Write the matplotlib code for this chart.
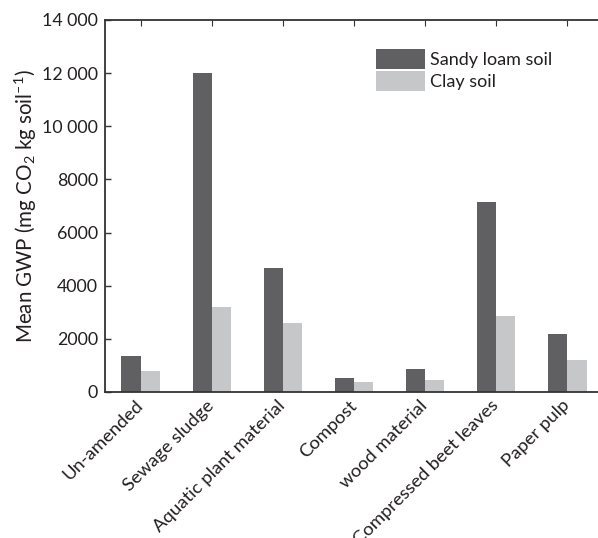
import matplotlib
matplotlib.use("Agg")
import matplotlib.pyplot as plt
import numpy as np
from matplotlib.ticker import FuncFormatter

plt.rcParams['font.family'] = ['Lato', 'DejaVu Sans']
plt.rcParams['mathtext.fontset'] = 'custom'
plt.rcParams['mathtext.rm'] = 'Lato'
plt.rcParams['mathtext.default'] = 'regular'

categories = ["Un-amended", "Sewage sludge", "Aquatic plant material", "Compost",
              "wood material", "Compressed beet leaves", "Paper pulp"]
sandy_loam = [1350, 12000, 4650, 520, 880, 7150, 2200]
clay = [790, 3200, 2600, 380, 450, 2850, 1200]
series_names = ["Sandy loam soil", "Clay soil"]
y_ticks = [0, 2000, 4000, 6000, 8000, 10000, 12000, 14000]

dark = "#606062"
light = "#c6c7c9"
axis_col = "#333333"
text_col = "#231f20"

fig = plt.figure(figsize=(5.98, 5.38), dpi=100)
ax = fig.add_axes([105 / 598, 1 - 392 / 538, 498 / 598, 372 / 538])

x = np.arange(len(categories))
w = 0.27
ax.bar(x - w / 2, sandy_loam, width=w, color=dark, label=series_names[0])
ax.bar(x + w / 2, clay, width=w, color=light, label=series_names[1])

ax.set_xlim(-0.5, len(categories) - 0.5)
ax.set_ylim(0, 14000)
ax.set_yticks(y_ticks)


def fmt(v, pos):
    v = int(v)
    if v >= 10000:
        return f"{v // 1000} {v % 1000:03d}"
    return str(v)


ax.yaxis.set_major_formatter(FuncFormatter(fmt))
ax.tick_params(axis='y', direction='in', length=4, width=1, color=axis_col,
               labelsize=12.8, labelcolor=text_col, pad=5)

ax.set_xticks(x)
ax.set_xticklabels(categories, rotation=45, ha='right', va='center',
                   rotation_mode='anchor', fontsize=13.3, color=text_col)
ax.tick_params(axis='x', bottom=False, top=True, direction='in', length=4,
               width=0.8, color=axis_col, pad=8)
ax.xaxis.set_tick_params(labelbottom=True)

for side in ('left', 'bottom', 'top'):
    ax.spines[side].set_color(axis_col)
    ax.spines[side].set_linewidth(1.3)
ax.spines['right'].set_visible(False)

ax.set_ylabel("Mean GWP (mg CO$_2$ kg soil$^{\u2013 1}$)", fontsize=14.8,
              color=text_col, labelpad=2)

fs = 13
fpx = fs * 100 / 72
ax.legend(loc='upper left', bbox_to_anchor=(376 / 598, 1 - 49 / 538),
          bbox_transform=fig.transFigure, frameon=False, fontsize=fs,
          handlelength=49 / fpx, handleheight=24 / fpx, handletextpad=0.3,
          labelspacing=0.12, borderpad=0, borderaxespad=0, labelcolor=text_col)

fig.savefig("out.png", dpi=100)
